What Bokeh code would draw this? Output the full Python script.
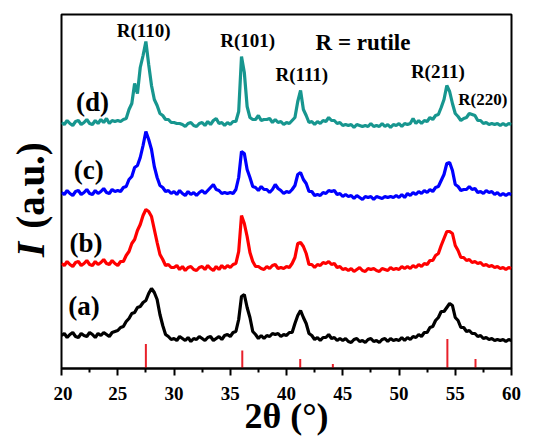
import numpy as np
from bokeh.plotting import figure
from bokeh.layouts import row
from bokeh.models import Range1d, FixedTicker, Label
from bokeh.core.properties import value
from bokeh.embed import file_html
from bokeh.resources import INLINE

# 2-theta sampling grid (deg)
two_theta = np.arange(20.0, 60.001, 0.25)

# Stacked intensities (a.u.)
trace_a = [33,35,31,34,36,32,31,35,33,32,36,34,31,35,33,36,34,32,36,37,
           38,41,42,47, 50,55,56,61, 62,66,68,75, 80,76,69,54, 43,34,32,29,
           30,28,32,30,28,31,27,30,29,32,30,28,31,32,28,30,32,29,33,34,
           32,36,37,49, 72,74,61,51, 37,34,30,33,
           30,33,32,35,34,35,32,34,
           33,36,36,45, 53,58,51,45, 35,33,29,31, 28,31,31,34, 30,31,28,30,
           28,30,27,26,29,30,27,28,26,29,30,27,28,26,29,30,27,30,28,29,
           28,31,28,31, 29,32,31,34, 32,36,36,41, 42,48,51,57, 57,61,65,63,
           51,48,41,41, 37,38,35,35, 32,33,30,31, 29,30,28,29, 28,29,27,29,
           28]
trace_b = [105,103,107,104,102,106,107,103,105,108,104,103,107,104,106,109,105,104,108,105,
           103,107,107,113, 117,125,129,138, 144,153,159,157, 152,139,126,114, 109,103,104,101,
           101,103,99,102,98,101,102,99,98,101,102,99,103,100,98,102,99,103,100,103,
           101,104,105,117, 153,145,132,116, 107,102,102,100,
           99,102,100,103,104,100,101,100,
           102,101,105,111, 125,126,122,115, 104,104,101,104, 103,106,105,107, 104,105,101,102,
           99,100,98,100,97,99,101,98,97,100,99,100,98,97,100,99,98,101,99,100,
           99,102,100,102, 100,103,101,104, 102,105,104,108, 108,113,115,123, 130,137,137,135,
           123,118,111,111, 108,109,106,107, 105,106,103,104, 102,103,101,102, 100,101,99,101,
           100]
trace_c = [176,174,178,175,173,177,178,174,176,179,175,174,178,175,177,180,176,175,179,177,
           178,177,181,182, 189,192,201,203, 211,223,237,229, 219,202,191,183, 181,177,178,175,
           177,174,178,175,173,177,174,176,173,176,178,175,178,181,184,179,178,175,176,175,
           176,175,179,191, 217,215,199,191, 182,181,178,182,
           179,179,176,179,184,180,178,175,
           177,176,179,183, 194,196,189,185, 177,177,173,174, 173,176,175,178, 177,178,174,175,
           172,174,172,173,170,173,171,169,172,171,172,169,172,171,170,172,171,172,171,173,
           171,174,171,175, 173,176,174,177, 175,178,176,179, 177,181,182,188, 194,205,206,198,
           184,182,178,179, 179,182,179,180, 176,177,175,178, 176,177,174,176, 173,175,173,175,
           174]
trace_d = [246,244,248,245,243,247,248,244,246,249,245,244,248,245,249,246,250,245,248,247,
           248,247,249,250, 259,265,285,275, 301,313,327,304, 283,269,263,255, 253,249,249,246,
           246,245,245,244,242,245,246,243,242,245,246,243,247,244,248,250,245,246,243,246,
           244,247,247,257, 312,296,262,251, 249,249,253,248,
           249,249,250,246,249,246,247,244,
           246,245,248,251, 267,278,259,253, 246,247,244,247, 245,248,247,251, 248,248,245,246,
           243,244,243,244,241,244,243,242,243,242,245,242,243,242,245,242,244,241,244,243,
           245,242,245,244, 245,250,245,248, 245,248,247,251, 249,253,254,261, 269,283,277,265,
           255,252,248,250, 251,255,254,253, 248,248,245,246, 244,245,244,245, 243,245,243,245,
           244]

# Reference rutile pattern (stick positions and heights)
ref_pos = [27.50, 36.07, 41.22, 44.12, 54.30, 56.80]
ref_int = [24.5, 18.0, 9.5, 4.5, 29.5, 9.5]

trace_labels = ["(a)", "(b)", "(c)", "(d)"]
peak_labels = ["R(110)", "R(101)", "R(111)", "R(211)", "R(220)"]
x_ticks = [20, 25, 30, 35, 40, 45, 50, 55, 60]
x_minor = [22.5, 27.5, 32.5, 37.5, 42.5, 47.5, 52.5, 57.5]

FONT = "Liberation Serif"
H = 438
Y_TOP = 354

# ---- narrow panel holding the y-axis title (its frame is aligned with the chart frame) ----
ty = figure(width=53, height=H, output_backend="svg", toolbar_location=None,
            x_range=Range1d(0, 53), y_range=Range1d(0, Y_TOP),
            min_border=0, min_border_left=0, min_border_right=0,
            min_border_top=14, min_border_bottom=70)
ty.axis.visible = False
ty.grid.visible = False
ty.outline_line_color = None
ty.background_fill_color = "white"
ty.border_fill_color = "white"
ty.text(x=[30], y=[119], text=["I"], angle=np.pi / 2, text_align="center",
        text_baseline="middle", text_font=value(FONT), text_font_style="bold italic",
        text_font_size="39px", text_color="black")
ty.text(x=[30], y=[183], text=["(a.u.)"], angle=np.pi / 2, text_align="center",
        text_baseline="middle", text_font=value(FONT), text_font_style="bold",
        text_font_size="39px", text_color="black")

# ---- main chart ----
p = figure(width=500, height=H, output_backend="svg", toolbar_location=None,
           x_range=Range1d(20, 60), y_range=Range1d(0, Y_TOP),
           min_border_left=8, min_border_right=42, min_border_top=14, min_border_bottom=70)
p.background_fill_color = "white"
p.border_fill_color = "white"
p.outline_line_color = "black"
p.outline_line_width = 2
p.xgrid.visible = False
p.ygrid.visible = False
p.yaxis.visible = False

xa = p.xaxis[0]
xa.ticker = FixedTicker(ticks=x_ticks, minor_ticks=x_minor)
xa.axis_line_width = 2
xa.major_tick_line_width = 2
xa.minor_tick_line_width = 2
xa.major_tick_in = 0
xa.major_tick_out = 7
xa.minor_tick_in = 0
xa.minor_tick_out = 4
xa.major_label_text_font = FONT
xa.major_label_text_font_style = "bold"
xa.major_label_text_font_size = "19px"
xa.major_label_text_color = "black"
xa.major_label_standoff = 11
xa.axis_label = "2θ (°)"
xa.axis_label_text_font = FONT
xa.axis_label_text_font_style = "bold"
xa.axis_label_text_font_size = "36px"
xa.axis_label_text_color = "black"
xa.axis_label_standoff = -7

colors = ["#000000", "#ff0000", "#0000ff", "#17968f"]
for tr, c in zip([trace_a, trace_b, trace_c, trace_d], colors):
    p.line(two_theta, tr, line_color=c, line_width=3.2)

p.segment(x0=ref_pos, y0=[0]*len(ref_pos), x1=ref_pos, y1=ref_int,
          line_color="#e8202a", line_width=2)

def lab(x, y, t, size, style="bold", align="center"):
    p.add_layout(Label(x=x, y=y, text=t, text_font=FONT, text_font_style=style,
                       text_font_size=size, text_align=align, text_baseline="middle",
                       text_color="black"))

# peak labels
lab(27.3, 338, peak_labels[0], "19px")
lab(36.55, 328, peak_labels[1], "19px")
lab(41.36, 294, peak_labels[2], "19px")
lab(53.45, 297, peak_labels[3], "19px")
lab(57.45, 269, peak_labels[4], "17px")
lab(46.8, 326, "R = rutile", "23px")
# trace labels
lab(22.75, 267, trace_labels[3], "27px")
lab(22.43, 199, trace_labels[2], "27px")
lab(22.18, 126, trace_labels[1], "27px")
lab(22.0, 63, trace_labels[0], "27px")

layout = row(ty, p)
open("out.html", "w").write(file_html(layout, INLINE))
